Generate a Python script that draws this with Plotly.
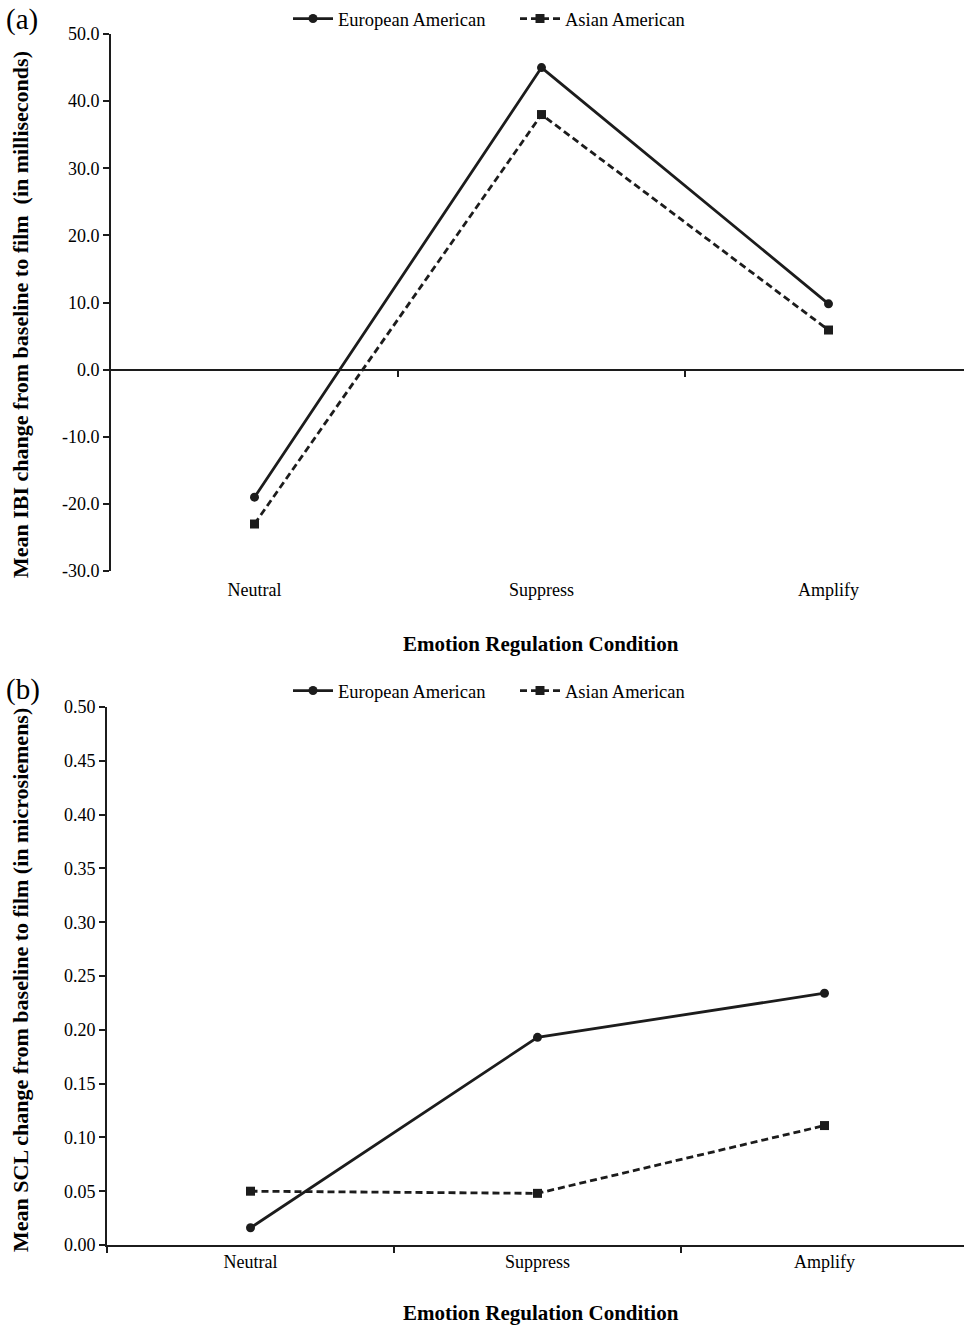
import plotly.graph_objects as go

conditions = ["Neutral", "Suppress", "Amplify"]

ibi_european = [-19.0, 45.0, 9.8]
ibi_asian = [-23.0, 38.0, 5.9]

scl_european = [0.016, 0.193, 0.234]
scl_asian = [0.050, 0.048, 0.111]

ibi_tickvals = [-30, -20, -10, 0, 10, 20, 30, 40, 50]
ibi_ticktext = ["-30.0", "-20.0", "-10.0", "0.0", "10.0", "20.0", "30.0", "40.0", "50.0"]
scl_tickvals = [0.0, 0.05, 0.10, 0.15, 0.20, 0.25, 0.30, 0.35, 0.40, 0.45, 0.50]
scl_ticktext = ["0.00", "0.05", "0.10", "0.15", "0.20", "0.25", "0.30", "0.35", "0.40", "0.45", "0.50"]

W, H = 964, 1325
FONT = "Liberation Serif"
INK = "#1c1c1c"


def py(px):
    return 1 - px / H


fig = go.Figure()

line_w = 2.8
# Top panel (a)
fig.add_trace(go.Scatter(x=conditions, y=ibi_european, mode="lines+markers", name="European American",
                         line=dict(color=INK, width=line_w), marker=dict(symbol="circle", size=9, color=INK),
                         xaxis="x", yaxis="y", legend="legend"))
fig.add_trace(go.Scatter(x=conditions, y=ibi_asian, mode="lines+markers", name="Asian American",
                         line=dict(color=INK, width=line_w, dash="7px,4px"),
                         marker=dict(symbol="square", size=9, color=INK),
                         xaxis="x", yaxis="y", legend="legend"))
# dummy trace to activate zero-line axis
fig.add_trace(go.Scatter(x=[0.5], y=[None], mode="markers", showlegend=False, hoverinfo="skip",
                         xaxis="x3", yaxis="y"))

# Bottom panel (b)
fig.add_trace(go.Scatter(x=conditions, y=scl_european, mode="lines+markers", name="European American",
                         line=dict(color=INK, width=line_w), marker=dict(symbol="circle", size=9, color=INK),
                         xaxis="x2", yaxis="y2", legend="legend2"))
fig.add_trace(go.Scatter(x=conditions, y=scl_asian, mode="lines+markers", name="Asian American",
                         line=dict(color=INK, width=line_w, dash="7px,4px"),
                         marker=dict(symbol="square", size=9, color=INK),
                         xaxis="x2", yaxis="y2", legend="legend2"))

tickfont = dict(family=FONT, size=18, color="#000")
legfont = dict(family=FONT, size=18.5, color="#000")
top_dom = [py(571), py(34)]
bot_dom = [py(1245), py(707)]
top_xr = [-0.5, -0.5 + (964 - 111) / 287]
bot_xr = [-0.5, -0.5 + (964 - 107) / 287]

axis_common = dict(showgrid=False, zeroline=False, automargin=False)

fig.update_layout(
    width=W, height=H,
    margin=dict(l=0, r=0, t=0, b=0, autoexpand=False),
    paper_bgcolor="white", plot_bgcolor="white",
    font=dict(family=FONT, size=18, color="#000"),
    xaxis=dict(domain=[111 / W, 1], anchor="y", type="category", range=top_xr,
               showline=False, ticks="", tickfont=tickfont, ticklabelstandoff=6, **axis_common),
    xaxis3=dict(overlaying="x", anchor="free", position=py(370), type="linear", range=top_xr,
                showline=True, linecolor=INK, linewidth=1.6, ticks="outside", ticklen=6,
                tickwidth=1.6, tickcolor=INK, tickvals=[0.5, 1.5], showticklabels=False, **axis_common),
    yaxis=dict(domain=top_dom, anchor="x", range=[-30, 50], tickvals=ibi_tickvals, ticktext=ibi_ticktext,
               showline=True, linecolor=INK, linewidth=1.6, ticks="outside", ticklen=6, tickwidth=1.6,
               tickcolor=INK, tickfont=tickfont, **axis_common),
    xaxis2=dict(domain=[107 / W, 1], anchor="y2", type="category", range=bot_xr,
                showline=True, linecolor=INK, linewidth=1.6, ticks="outside", ticklen=6, tickwidth=1.6,
                tickcolor=INK, tickson="boundaries", tickfont=tickfont, **axis_common),
    yaxis2=dict(domain=bot_dom, anchor="x2", range=[0, 0.5], tickvals=scl_tickvals, ticktext=scl_ticktext,
                showline=True, linecolor=INK, linewidth=1.6, ticks="outside", ticklen=6, tickwidth=1.6,
                tickcolor=INK, tickfont=tickfont, **axis_common),
    legend=dict(orientation="h", x=288 / W, xanchor="left", y=py(19), yanchor="middle",
                font=legfont, bgcolor="rgba(0,0,0,0)",
                itemwidth=40, tracegroupgap=0, entrywidthmode="pixels", entrywidth=172),
    legend2=dict(orientation="h", x=288 / W, xanchor="left", y=py(691), yanchor="middle",
                 font=legfont, bgcolor="rgba(0,0,0,0)",
                 itemwidth=40, tracegroupgap=0, entrywidthmode="pixels", entrywidth=172),
    showlegend=True,
)

annots = [
    dict(text="(a)", x=4 / W, y=py(19), xanchor="left", yanchor="middle", font=dict(size=29)),
    dict(text="(b)", x=4 / W, y=py(689), xanchor="left", yanchor="middle", font=dict(size=29)),
    dict(text="<b>Mean IBI change from baseline to film  (in milliseconds)</b>", x=21 / W, y=py(315),
         textangle=-90, xanchor="center", yanchor="middle", font=dict(size=22)),
    dict(text="<b>Mean SCL change from baseline to film (in microsiemens)</b>", x=21 / W, y=py(980),
         textangle=-90, xanchor="center", yanchor="middle", font=dict(size=22)),
    dict(text="<b>Emotion Regulation Condition</b>", x=541 / W, y=py(644), xanchor="center",
         yanchor="middle", font=dict(size=21)),
    dict(text="<b>Emotion Regulation Condition</b>", x=541 / W, y=py(1313), xanchor="center",
         yanchor="middle", font=dict(size=21)),
]
for a in annots:
    a.update(xref="paper", yref="paper", showarrow=False)
    a["font"] = dict(family=FONT, color="#000", **a["font"])
fig.update_layout(annotations=annots)

fig.write_html("out.html", config={"displayModeBar": False},
               post_script="document.body.style.margin='0';document.body.style.padding='0';"
                           "document.documentElement.style.overflow='hidden';")
